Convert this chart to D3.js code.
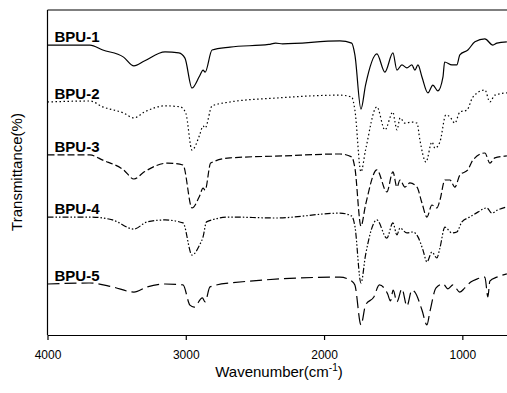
<!doctype html>
<html>
<head>
<meta charset="utf-8">
<style>
  body { margin:0; background:#fff; }
  svg { display:block; font-family: Arial, "Liberation Sans", sans-serif; }
  .trace { fill:none; stroke:#000; stroke-width:1.2px; }
  .lbl { font-size:15px; font-weight:bold; }
  .axis text { font-size:12px; font-family: Arial, "Liberation Sans", sans-serif; }
  .axis path, .axis line { stroke:#000; stroke-width:1.2px; }
</style>
<script src="https://d3js.org/d3.v7.min.js"></script>
</head>
<body>
<svg id="chart" width="507" height="393"></svg>
<script>
// wavenumber (cm-1), transmittance (arbitrary %, stacked)
var names = ["BPU-1", "BPU-2", "BPU-3", "BPU-4", "BPU-5"]
var dashes = ["none", "1.5,2.5", "7,3", "6,2,1.5,2,1.5,2", "12,5"]
var xTicks = [4000, 3000, 2000, 1000]

var bpu1 = [[4000,89.2],[3693,89.2],[3600,87.7],[3450,85.5],[3375,82.8],[3300,84.3],[3150,87.1],[3050,86.8],[3006,85.2],[2955,76.0],[2900,79.7],[2875,81.5],[2860,80.9],[2810,87.7],[2680,88.6],[2400,89.4],[2350,89.8],[2300,89.6],[1885,90.5],[1800,89.8],[1777,86.2],[1733,69.5],[1700,76.9],[1618,86.5],[1560,80.9],[1502,86.8],[1473,81.5],[1437,83.1],[1401,82.2],[1365,83.1],[1343,81.5],[1321,83.1],[1292,79.4],[1249,74.5],[1213,76.9],[1177,75.1],[1140,79.4],[1128,84.0],[1075,83.1],[1040,83.1],[1018,86.2],[960,87.7],[909,90.2],[837,91.1],[779,89.2],[750,89.8],[678,90.2]]

var bpu2 = [[4000,71.7],[3693,72.0],[3600,70.2],[3450,68.3],[3375,66.8],[3300,68.6],[3150,70.5],[3040,70.2],[3000,68.3],[2955,56.9],[2900,61.5],[2875,64.3],[2860,63.7],[2810,70.5],[2680,71.7],[2350,72.9],[1885,73.8],[1800,73.2],[1777,69.2],[1733,50.2],[1700,56.9],[1618,70.2],[1560,63.1],[1502,68.6],[1487,65.5],[1473,63.1],[1450,66.8],[1415,65.2],[1365,65.5],[1328,65.2],[1307,60.0],[1263,53.2],[1220,59.4],[1198,57.5],[1162,59.4],[1119,67.7],[1090,67.1],[1054,65.2],[1018,68.6],[967,69.2],[924,73.2],[837,75.4],[801,71.7],[765,73.8],[678,74.5]]

var bpu3 = [[4000,55.4],[3693,55.4],[3600,53.8],[3450,50.8],[3375,48.0],[3300,50.2],[3130,52.9],[3020,52.3],[2955,39.1],[2900,42.8],[2875,45.2],[2860,44.6],[2820,52.9],[2680,54.5],[2300,55.1],[1885,55.7],[1800,54.8],[1777,51.4],[1733,33.5],[1700,40.0],[1618,50.8],[1546,44.0],[1502,50.2],[1473,45.5],[1451,47.7],[1415,45.5],[1379,46.8],[1328,45.5],[1292,40.6],[1256,36.3],[1220,40.0],[1184,39.1],[1162,41.5],[1126,47.7],[1090,47.7],[1054,45.5],[1018,49.2],[960,50.8],[924,53.8],[837,56.0],[801,52.9],[765,54.5],[678,55.1]]

var bpu4 = [[4000,36.3],[3693,36.3],[3530,35.4],[3375,32.6],[3280,34.8],[3150,35.4],[3020,34.5],[2955,24.6],[2900,27.7],[2875,30.2],[2850,34.8],[2680,36.3],[2350,36.0],[1885,37.5],[1800,36.6],[1777,33.5],[1733,16.0],[1700,24.6],[1618,35.4],[1546,29.8],[1502,34.5],[1473,30.8],[1451,32.9],[1401,31.4],[1357,31.7],[1321,30.2],[1285,26.2],[1256,22.5],[1220,25.5],[1184,23.7],[1162,26.8],[1126,33.2],[1075,31.4],[1040,31.7],[1003,34.8],[946,36.3],[888,37.8],[823,39.1],[787,37.5],[743,38.5],[678,39.4]]

var bpu5 = [[4000,15.7],[3693,16.0],[3530,14.8],[3375,13.2],[3280,14.8],[3150,15.7],[3020,15.4],[2970,9.2],[2940,8.6],[2880,11.4],[2860,10.2],[2825,14.8],[2680,16.0],[1885,17.8],[1800,16.6],[1777,15.4],[1733,3.1],[1700,9.2],[1640,11.7],[1600,15.4],[1540,12.6],[1520,10.5],[1500,13.8],[1473,10.2],[1437,14.2],[1401,8.9],[1365,13.8],[1343,13.2],[1292,7.7],[1256,3.1],[1235,7.1],[1190,14.5],[1140,15.7],[1104,14.2],[1068,15.4],[1018,13.2],[982,14.5],[939,16.3],[895,17.2],[837,17.8],[815,11.7],[801,16.6],[750,17.8],[678,18.8]]

var series = [bpu1, bpu2, bpu3, bpu4, bpu5]

var svg = d3.select("#chart")
var pLeft = 47.5, pRight = 507, pTop = 10, pBottom = 335

var x = d3.scaleLinear().domain([4000, 677]).range([pLeft, pRight])
var y = d3.scaleLinear().domain([0, 100]).range([pBottom, pTop])

// frame: top line + left line
svg.append("line").attr("x1", pLeft).attr("x2", pRight).attr("y1", pTop).attr("y2", pTop)
  .style("stroke", "#000").style("stroke-width", "1.2px")
svg.append("line").attr("x1", pLeft).attr("x2", pLeft).attr("y1", pTop).attr("y2", pBottom)
  .style("stroke", "#000").style("stroke-width", "1.2px")

svg.append("g")
  .attr("class", "axis")
  .attr("transform", "translate(0," + pBottom + ")")
  .call(d3.axisBottom(x).tickValues(xTicks).tickFormat(d3.format("d")).tickSize(5).tickSizeOuter(0).tickPadding(10))

var line = d3.line()
  .x(function(d) { return x(d[0]) })
  .y(function(d) { return y(d[1]) })
  .curve(d3.curveMonotoneX)

series.forEach(function(s, i) {
  svg.append("path")
    .attr("class", "trace")
    .attr("d", line(s))
    .style("stroke-dasharray", dashes[i])
  svg.append("text")
    .attr("class", "lbl")
    .attr("x", pLeft + 7)
    .attr("y", y(s[0][1]) - 3)
    .text(names[i])
})

// axis titles
var xt = svg.append("text")
  .attr("x", 279).attr("y", 377)
  .attr("text-anchor", "middle")
  .style("font-size", "15px")
xt.append("tspan").text("Wavenumber(cm")
xt.append("tspan").attr("dy", -6).style("font-size", "10px").text("-1")
xt.append("tspan").attr("dy", 6).text(")")

svg.append("text")
  .attr("transform", "translate(22,172) rotate(-90)")
  .attr("text-anchor", "middle")
  .style("font-size", "15px")
  .text("Transmittance(%)")
</script>
</body>
</html>
